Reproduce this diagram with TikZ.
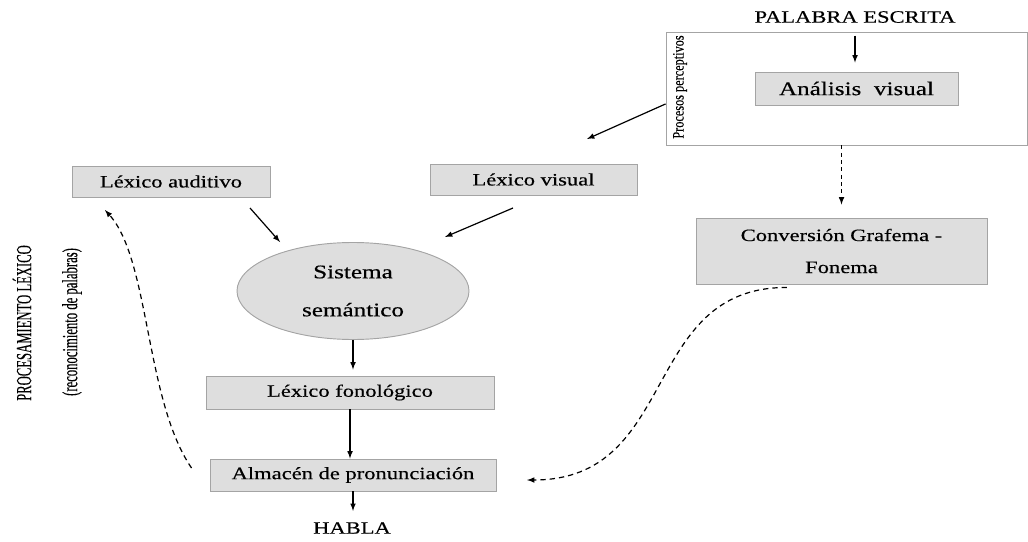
\documentclass[tikz,border=0pt]{standalone}
\usepackage{fontspec}
\setmainfont{Liberation Serif}[FakeStretch=1.3, FakeBold=0.4]
\newfontfamily\plainfont{Liberation Serif}[FakeBold=0.3]
\usepackage{xcolor}
\usetikzlibrary{shapes.geometric}

\definecolor{boxfill}{HTML}{DEDEDE}
\definecolor{boxline}{HTML}{A4A4A4}

\tikzset{
  caja/.style={draw=boxline, line width=0.7pt, fill=boxfill, inner sep=0pt,
    font=\fontsize{13}{15}\selectfont},
  marco/.style={draw=boxline, line width=0.7pt, inner sep=0pt},
  rotulo/.style={rotate=90, inner sep=0pt, font=\plainfont\fontsize{9.5}{11}\selectfont},
  flecha/.style={->, line width=0.9pt},
  discont/.style={->, line width=0.9pt, dash pattern=on 4pt off 3pt}
}

\begin{document}
\begin{tikzpicture}[x=0.75pt,y=-0.75pt,>=latex]
\useasboundingbox (0,0) rectangle (1028,542);
%procesos perceptivos
\node[marco, minimum width=270.75pt, minimum height=84.75pt] (percep) at (846.5,88.5) {};
\node[rotulo, yscale=1.3, font=\plainfont\fontsize{9.2}{11}\selectfont] (procper) at (680,87) {Procesos perceptivos};
\node[font=\fontsize{13}{15}\selectfont] (palabra) at (855,17) {PALABRA ESCRITA};
\node[caja, minimum width=152.25pt, minimum height=24.75pt, font=\fontsize{14.5}{17}\selectfont] (analisis) at (856.5,88.5) {Análisis~ visual};
\draw[flecha, shorten <=6pt, shorten >=6.75pt] (palabra.south) -- (palabra.south |- analisis.north);
%lexicos
\node[caja, minimum width=148.5pt, minimum height=23.25pt] (lexaud) at (171,181.5) {Léxico auditivo};
\node[caja, minimum width=155.25pt, minimum height=23.25pt] (lexvis) at (533.5,179.5) {Léxico visual};
\node[caja, align=center, minimum width=218.25pt, minimum height=49.5pt, font=\fontsize{13}{24}\selectfont] (conv) at (841.5,251) {Conversión Grafema -\\Fonema};
\node[ellipse, draw=boxline, line width=0.7pt, fill=boxfill, inner sep=0pt, minimum width=174pt, minimum height=72.75pt, align=center, font=\fontsize{14.5}{28.5}\selectfont] (sem) at (353,291) {Sistema\\semántico};
\node[caja, minimum width=216pt, minimum height=24.75pt] (lexfon) at (350,392.5) {Léxico fonológico};
\node[caja, minimum width=214.5pt, minimum height=24pt] (almacen) at (353,475) {Almacén de pronunciación};
\node[font=\fontsize{13}{15}\selectfont] (habla) at (352,528) {HABLA};
%procesamiento lexico
\node[rotulo, yscale=1.7] (proclex) at (22,323) {PROCESAMIENTO LÉXICO};
\node[rotulo, yscale=1.7] (recon) at (72,322) {(reconocimiento de palabras)};
%extremos libres
\coordinate (visin) at (587,139);
\coordinate (audout) at (250,208);
\coordinate (semaud) at (280,242);
\coordinate (visout) at (513,208);
\coordinate (semvis) at (445,237);
\coordinate (audback) at (105,210);
\coordinate (almin) at (527,480);
%flechas
\draw[flecha] ([yshift=-11.6pt]percep.west) -- (visin);
\draw[flecha] (audout) -- (semaud);
\draw[flecha] (visout) -- (semvis);
\draw[discont, dash pattern=on 3pt off 2.5pt, shorten >=9.75pt] (conv.north |- percep.south) -- (conv.north);
\draw[flecha, shorten >=4.5pt] (sem.south) -- (sem.south |- lexfon.north);
\draw[flecha] (lexfon.south) -- (lexfon.south |- almacen.north);
\draw[flecha, shorten >=5pt] (almacen.south) -- (almacen.south |- habla.north);
\draw[discont] ([xshift=-13.5pt,yshift=5.25pt]almacen.west) .. controls (145,400) and (150,260) .. (audback);
\draw[discont] ([xshift=-40.9pt,yshift=-2.25pt]conv.south) .. controls (640,287) and (680,480) .. (almin);
\end{tikzpicture}
\end{document}
